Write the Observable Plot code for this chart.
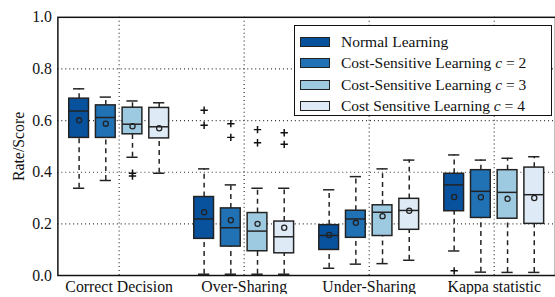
<!DOCTYPE html>
<html>
<head>
<meta charset="utf-8">
<script src="https://cdn.jsdelivr.net/npm/d3@7"></script>
<script src="https://cdn.jsdelivr.net/npm/@observablehq/plot@0.6"></script>
<style>
  html, body { margin: 0; padding: 0; background: #fff; overflow: hidden; }
  #wrap { position: relative; width: 555px; height: 297px; overflow: hidden; }
  #legend {
    position: absolute; left: 294px; top: 25px; width: 258px; height: 91px;
    border: 1.5px solid #111; background: #fff; box-sizing: border-box;
    font-family: "Liberation Serif", serif; font-size: 15.5px; color: #111;
    padding-top: 5px;
  }
  .row { display: flex; align-items: center; height: 21.5px; }
  .sw { width: 30px; height: 10px; border: 1.5px solid #222; margin-left: 5px; margin-right: 11px; box-sizing: border-box; }
</style>
</head>
<body>
<div id="wrap"><div id="chart"></div><div id="legend"></div></div>
<script>
const groups = ["Correct Decision", "Over-Sharing", "Under-Sharing", "Kappa statistic"];
const series = ["Normal Learning", "Cost-Sensitive Learning", "Cost-Sensitive Learning", "Cost Sensitive Learning"];
const seriesC = [null, 2, 3, 4];
const colors = ["#08519c", "#2171b5", "#9ecae1", "#deebf7"];

// per group (rows) x per series (columns)
const whiskerLow = [
  [0.338, 0.368, 0.458, 0.396],
  [0.005, 0.005, 0.005, 0.005],
  [0.028, 0.044, 0.046, 0.059],
  [0.095, 0.013, 0.012, 0.012]
];
const q1 = [
  [0.533, 0.533, 0.547, 0.531],
  [0.142, 0.112, 0.094, 0.086],
  [0.099, 0.146, 0.153, 0.177],
  [0.249, 0.223, 0.220, 0.200]
];
const median = [
  [0.637, 0.612, 0.586, 0.576],
  [0.219, 0.185, 0.172, 0.150],
  [0.155, 0.219, 0.245, 0.252],
  [0.351, 0.326, 0.322, 0.313]
];
const q3 = [
  [0.685, 0.659, 0.650, 0.649],
  [0.304, 0.260, 0.242, 0.209],
  [0.195, 0.251, 0.272, 0.297],
  [0.394, 0.408, 0.408, 0.418]
];
const whiskerHigh = [
  [0.723, 0.691, 0.676, 0.669],
  [0.413, 0.351, 0.338, 0.338],
  [0.332, 0.383, 0.413, 0.447],
  [0.467, 0.447, 0.454, 0.460]
];
const mean = [
  [0.601, 0.588, 0.578, 0.570],
  [0.245, 0.214, 0.200, 0.185],
  [0.157, 0.204, 0.230, 0.251],
  [0.304, 0.303, 0.297, 0.300]
];
// outliers: [group, series, value]
const outliers = [
  [0, 2, 0.396], [0, 2, 0.385],
  [1, 0, 0.640], [1, 0, 0.582],
  [1, 1, 0.588], [1, 1, 0.535],
  [1, 2, 0.565], [1, 2, 0.514],
  [1, 3, 0.553], [1, 3, 0.508],
  [3, 0, 0.018]
];
const yTicks = [0, 0.2, 0.4, 0.6, 0.8, 1.0];

const step = 0.2135, boxHalf = 0.079, capHalf = 0.045;
const pos = (g, s) => g + (s - 1.5) * step;

const boxes = [];
groups.forEach((name, g) => series.forEach((sname, s) => boxes.push({
  g, s, x: pos(g, s),
  lo: whiskerLow[g][s], q1: q1[g][s], med: median[g][s], q3: q3[g][s],
  hi: whiskerHigh[g][s], mean: mean[g][s]
})));
const outs = outliers.map(([g, s, v]) => ({x: pos(g, s), v}));

const thinPlus = {
  draw(ctx, size) {
    const r = Math.sqrt(size) / 2;
    ctx.moveTo(-r, 0); ctx.lineTo(r, 0);
    ctx.moveTo(0, -r); ctx.lineTo(0, r);
  }
};

const grid = {stroke: "#333", strokeWidth: 1.2, strokeDasharray: "1,3"};
const edge = "#222";

const plot = Plot.plot({
  width: 561, height: 297,
  marginLeft: 58, marginRight: 0, marginTop: 17, marginBottom: 19,
  style: {fontFamily: "Liberation Serif, serif", fontSize: "16px", color: "#111", background: "#fff"},
  x: {domain: [-0.49, 3.49]},
  y: {domain: [0, 1]},
  marks: [
    Plot.ruleY(yTicks.filter(d => d > 0 && d < 1), grid),
    Plot.ruleX([0, 1, 2, 3], grid),
    Plot.axisX({ticks: [0, 1, 2, 3], tickFormat: (d) => groups[d], tickSize: 0, tickPadding: 5, label: null, fontSize: 16}),
    Plot.axisY({ticks: yTicks, tickFormat: ".1f", tickSize: 0, tickPadding: 6, label: "Rate/Score", labelAnchor: "center", labelArrow: "none", labelOffset: 46, fontSize: 16}),
    Plot.ruleX(boxes, {x: "x", y1: "lo", y2: "q1", stroke: edge, strokeWidth: 1.5, strokeDasharray: "5,4"}),
    Plot.ruleX(boxes, {x: "x", y1: "q3", y2: "hi", stroke: edge, strokeWidth: 1.5, strokeDasharray: "5,4"}),
    Plot.ruleY(boxes, {y: "lo", x1: d => d.x - capHalf, x2: d => d.x + capHalf, stroke: edge, strokeWidth: 1.5}),
    Plot.ruleY(boxes, {y: "hi", x1: d => d.x - capHalf, x2: d => d.x + capHalf, stroke: edge, strokeWidth: 1.5}),
    Plot.rect(boxes, {x1: d => d.x - boxHalf, x2: d => d.x + boxHalf, y1: "q1", y2: "q3", fill: d => colors[d.s], stroke: edge, strokeWidth: 1.5}),
    Plot.ruleY(boxes, {y: "med", x1: d => d.x - boxHalf, x2: d => d.x + boxHalf, stroke: edge, strokeWidth: 1.5}),
    Plot.dot(boxes, {x: "x", y: "mean", r: 2.6, stroke: edge, strokeWidth: 1.3, fill: "none"}),
    Plot.dot(outs, {x: "x", y: "v", symbol: thinPlus, r: 4.2, stroke: "#111", strokeWidth: 1.5, fill: "none"}),
    Plot.frame({stroke: "#111", strokeWidth: 1.5})
  ]
});
plot.style.display = "block";
document.getElementById("chart").appendChild(plot);

const legend = document.getElementById("legend");
series.forEach((name, i) => {
  const row = document.createElement("div");
  row.className = "row";
  const sw = document.createElement("div");
  sw.className = "sw";
  sw.style.background = colors[i];
  const label = document.createElement("span");
  label.innerHTML = name + (seriesC[i] != null ? ' <i>c</i> = ' + seriesC[i] : "");
  row.appendChild(sw);
  row.appendChild(label);
  legend.appendChild(row);
});
</script>
</body>
</html>
